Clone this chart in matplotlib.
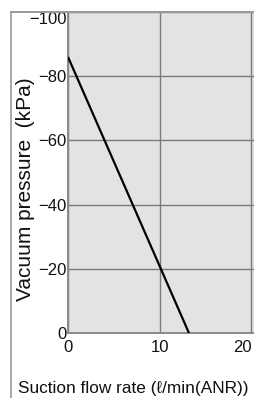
import matplotlib
matplotlib.use("Agg")
import matplotlib.pyplot as plt
from matplotlib.lines import Line2D

plt.rcParams['font.family'] = ['Liberation Sans', 'DejaVu Sans']

# data
flow = [0, 13.2]          # l/min (ANR)
vacuum = [-86, 0]         # kPa
x_ticks = [0, 10, 20]
x_labels = ['0', '10', '20']
y_ticks = [0, -20, -40, -60, -80, -100]
y_labels = ['0', '\u221220', '\u221240', '\u221260', '\u221280', '\u2212100']

W, H = 254, 398
fig = plt.figure(figsize=(W / 100, H / 100), dpi=100)
ax = fig.add_axes([68 / W, (H - 333) / H, (W - 68) / W, (333 - 12) / H])
ax.set_facecolor('#e3e3e3')

ax.plot(flow, vacuum, color='black', lw=1.6, solid_capstyle='butt', zorder=3)

ax.set_xlim(0, 20.3)
ax.set_ylim(0, -100)
ax.set_xticks(x_ticks)
ax.set_xticklabels(x_labels)
ax.set_yticks(y_ticks)
ax.set_yticklabels(y_labels)
ax.tick_params(axis='both', length=0, labelsize=12, colors='#111111')
ax.tick_params(axis='x', pad=5)
ax.tick_params(axis='y', pad=1)
ax.grid(True, color='#7a7a7a', lw=1.0)
ax.set_axisbelow(True)

# the end labels are pushed inside the frame, as in the original
ax.get_yticklabels()[-1].set_verticalalignment('top')
ax.get_xticklabels()[-1].set_horizontalalignment('right')

for side in ['left', 'bottom', 'top']:
    ax.spines[side].set_color('#8a8a8a')
    ax.spines[side].set_linewidth(1.4)
ax.spines['right'].set_visible(False)

# outer frame of the figure
fig.add_artist(Line2D([11 / W, 11 / W], [0, 1 - 11.5 / H], color='#999999', lw=1.2))
fig.add_artist(Line2D([11 / W, 1], [1 - 12 / H, 1 - 12 / H], color='#999999', lw=1.4))

fig.text(26 / W, 1 - 189 / H, 'Vacuum pressure  (kPa)', rotation=90,
         ha='center', va='center', fontsize=15, color='#111111')
fig.text(133 / W, 1 - 388 / H, 'Suction flow rate (\u2113/min(ANR))',
         ha='center', va='center', fontsize=12.4, color='#111111')

fig.savefig('out.png', dpi=100)
